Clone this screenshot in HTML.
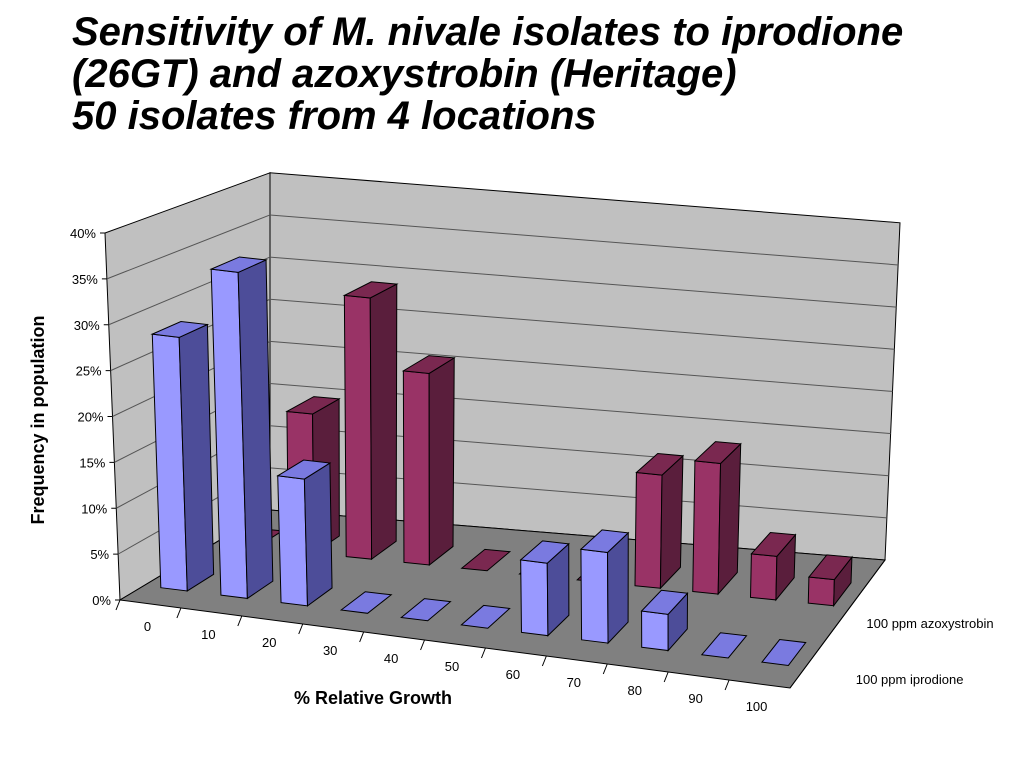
<!DOCTYPE html>
<html><head><meta charset="utf-8"><style>
body{margin:0;background:#fff;font-family:"Liberation Sans",sans-serif}
#t{position:absolute;left:72px;top:11px;font-size:40px;font-weight:bold;font-style:italic;line-height:42px;color:#000;white-space:nowrap}
</style></head><body>
<div id="t">Sensitivity of M. nivale isolates to iprodione<br>(26GT) and azoxystrobin (Heritage)<br>50 isolates from 4 locations</div>
<svg id="c" width="1024" height="768" style="position:absolute;left:0;top:0"></svg>
<script>
const categories=["0","10","20","30","40","50","60","70","80","90","100"];
const iprodione=[28,36,14,0,0,0,8,10,4,0,0];
const azoxystrobin=[0,16,30,22,0,0,0,13,15,5,3];
const yTicks=[0,5,10,15,20,25,30,35,40];
const seriesNames=["100 ppm iprodione","100 ppm azoxystrobin"];
const svg=document.getElementById('c');
const NS='http://www.w3.org/2000/svg';
function P(t,d,v){
  const fx=120+670*t,fy=600+88*t,bx=270+615*t,by=510+50*t;
  const x=fx+d*(bx-fx),y=fy+d*(by-fy);
  const s=9.175+d*(8.43-9.175);
  const lean=v/40*(-15*(1-d)*(1-t)+15*t*d);
  return [x+lean,y-s*v];
}
function poly(pts,fill,name){
  const p=document.createElementNS(NS,'polygon');
  p.setAttribute('points',pts.map(q=>q.join(',')).join(' '));
  p.setAttribute('fill',fill);p.setAttribute('stroke','#000');p.setAttribute('stroke-width','1');
  
  
  svg.appendChild(p);return p;
}
function line(a,b,col,name){
  const l=document.createElementNS(NS,'line');
  l.setAttribute('x1',a[0]);l.setAttribute('y1',a[1]);l.setAttribute('x2',b[0]);l.setAttribute('y2',b[1]);
  l.setAttribute('stroke',col);l.setAttribute('stroke-width','1');
  
  
  svg.appendChild(l);
}
function text(x,y,s,size,anchor,name,extra){
  const e=document.createElementNS(NS,'text');
  e.setAttribute('x',x);e.setAttribute('y',y);e.setAttribute('font-size',size);
  e.setAttribute('text-anchor',anchor);e.setAttribute('font-family','Liberation Sans, sans-serif');
  if(extra)for(const k in extra)e.setAttribute(k,extra[k]);
  e.textContent=s;
  
  
  svg.appendChild(e);
}
const maxV=yTicks[yTicks.length-1];
poly([P(0,1,0),P(1,1,0),P(1,1,maxV),P(0,1,maxV)],'#c0c0c0','back-wall');
poly([P(0,0,0),P(0,1,0),P(0,1,maxV),P(0,0,maxV)],'#c0c0c0','side-wall');
poly([P(0,0,0),P(1,0,0),P(1,1,0),P(0,1,0)],'#808080','floor');
yTicks.forEach(v=>{
  if(v>0&&v<maxV){line(P(0,0,v),P(0,1,v),'#555','gridline-side');line(P(0,1,v),P(1,1,v),'#555','gridline-back');}
  const a=P(0,0,v);
  line([a[0]-5,a[1]],a,'#000','y-tick');
  text(a[0]-9,a[1]+5,v+'%',13,'end','y-tick-label');
});
categories.forEach((c,i)=>{
  const a=P(i/11,0,0);line(a,[a[0]-4,a[1]+10],'#000','x-tick');
  const m=P((i+0.5)/11,0,0);
  text(m[0]-3,m[1]+27,c,13,'middle','x-tick-label');
});
line(P(1,0,0),P(1,1,0),'#000','depth-axis');
const r0=P(1,0.25,0),r1=P(1,0.72,0);
text(r0[0]+42,r0[1]+28,seriesNames[0],13,'start','depth-label-iprodione');
text(r1[0]+8,r1[1]+32,seriesNames[1],13,'start','depth-label-azoxystrobin');
function bar(i,d,v,cols,name){
  const t0=(i+0.28)/11,t1=(i+0.72)/11,d0=d-0.09,d1=d+0.09;
  if(v>0){
    poly([P(t0,d0,0),P(t1,d0,0),P(t1,d0,v),P(t0,d0,v)],cols[0],name+'-front');
    poly([P(t1,d0,0),P(t1,d1,0),P(t1,d1,v),P(t1,d0,v)],cols[1],name+'-side');
  }
  poly([P(t0,d0,v),P(t1,d0,v),P(t1,d1,v),P(t0,d1,v)],cols[2],name+'-top');
}
azoxystrobin.forEach((v,i)=>bar(i,0.72,v,['#993366','#5a1e3c','#7a2850'],'bar-azoxystrobin-'+categories[i]));
iprodione.forEach((v,i)=>bar(i,0.25,v,['#9999ff','#4d4d99','#7a7ae0'],'bar-iprodione-'+categories[i]));
text(373,704,'% Relative Growth',18,'middle','x-axis-title',{'font-weight':'bold'});
text(0,0,'Frequency in population',18,'middle','y-axis-title',{'font-weight':'bold','transform':'translate(44,420) rotate(-90)'});
</script>
</body></html>
